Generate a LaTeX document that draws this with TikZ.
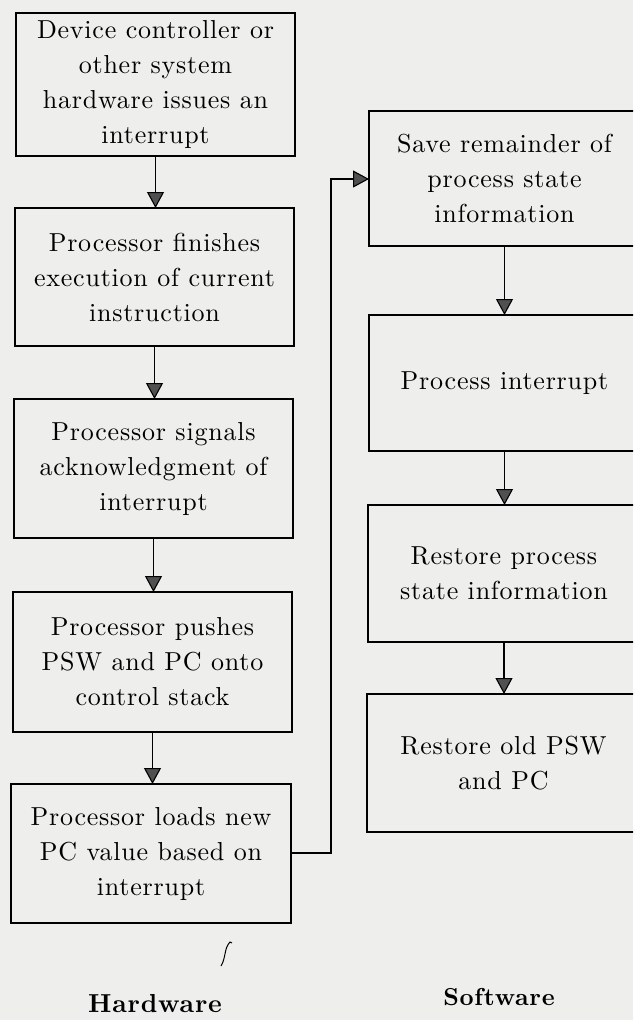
\documentclass[tikz,border=0pt]{standalone}
\usepackage{fontspec}
\setmainfont{lmroman10-regular}[Extension=.otf, BoldFont=lmroman10-bold, LetterSpace=3]
\usetikzlibrary{arrows.meta}
\definecolor{paper}{HTML}{EEEEEC}
\definecolor{tipgray}{HTML}{505050}
\tikzset{
  boxtext/.style={align=center, inner sep=0pt, font=\fontsize{26}{35}\selectfont},
  flow/.style={draw=black, line width=1.1pt,
    -{Triangle[width=17pt,length=16pt,fill=tipgray]}},
  caption/.style={font=\fontsize{26}{28}\selectfont\bfseries}
}
% a framed step: name, left, top, right, bottom, text
\newcommand{\stepnode}[6]{%
  \draw[line width=1.3pt] (#2,#3) rectangle (#4,#5);
  \node[boxtext] (#1) at ({(#2+#4)/2},{(#3+#5)/2}) {#6};
  \coordinate (#1-n) at ({(#2+#4)/2},#3);
  \coordinate (#1-s) at ({(#2+#4)/2},#5);
}
\begin{document}
\begin{tikzpicture}[x=1pt,y=-1pt]
  \useasboundingbox (0,0) rectangle (633,1020);
  \fill[paper] (0,0) rectangle (633,1020);
  \begin{scope}
  \clip (0,0) rectangle (633,1020);
  % hardware column
  \stepnode{h1}{16}{13}{295}{156}{Device controller or\\other system\\hardware issues an\\interrupt}
  \stepnode{h2}{15}{208}{294}{346}{Processor finishes\\execution of current\\instruction}
  \stepnode{h3}{14}{399}{293}{538}{Processor signals\\acknowledgment of\\interrupt}
  \stepnode{h4}{13}{592}{292}{732}{Processor pushes\\PSW and PC onto\\control stack}
  \stepnode{h5}{11}{784}{291}{923}{Processor loads new\\PC value based on\\interrupt}
  % software column
  \stepnode{s1}{369}{111}{640}{246}{Save remainder of\\process state\\information}
  \stepnode{s2}{369}{315}{640}{451}{Process interrupt}
  \stepnode{s3}{368}{505}{640}{642}{Restore process\\state information}
  \stepnode{s4}{367}{694}{640}{832}{Restore old PSW\\and PC}
  % connectors
  \draw[flow] (h1-s) -- (h1-s |- h2-n);
  \draw[flow] (h2-s) -- (h2-s |- h3-n);
  \draw[flow] (h3-s) -- (h3-s |- h4-n);
  \draw[flow] (h4-s) -- (h4-s |- h5-n);
  \draw[flow] (s1-s) -- (s1-s |- s2-n);
  \draw[flow] (s2-s) -- (s2-s |- s3-n);
  \draw[flow] (s3-s) -- (s3-s |- s4-n);
  \coordinate (h5-e) at (291,853);
  \coordinate (turn1) at (331,853);
  \coordinate (turn2) at (331,179);
  \coordinate (s1-w) at (369,179);
  \draw[flow] (h5-e) -- (turn1) -- (turn2) -- (s1-w);
  \end{scope}
  % column captions
  \node[caption] (hw) at (155,1004) {Hardware};
  \node[caption, font=\fontsize{24.5}{28}\selectfont\bfseries] (sw) at (499,997) {Software};
  % pen stroke under the hardware column
  \draw[line width=1pt] (221,966) .. controls (226,958) and (224,948) .. (230,942) -- (232,943);
\end{tikzpicture}
\end{document}
